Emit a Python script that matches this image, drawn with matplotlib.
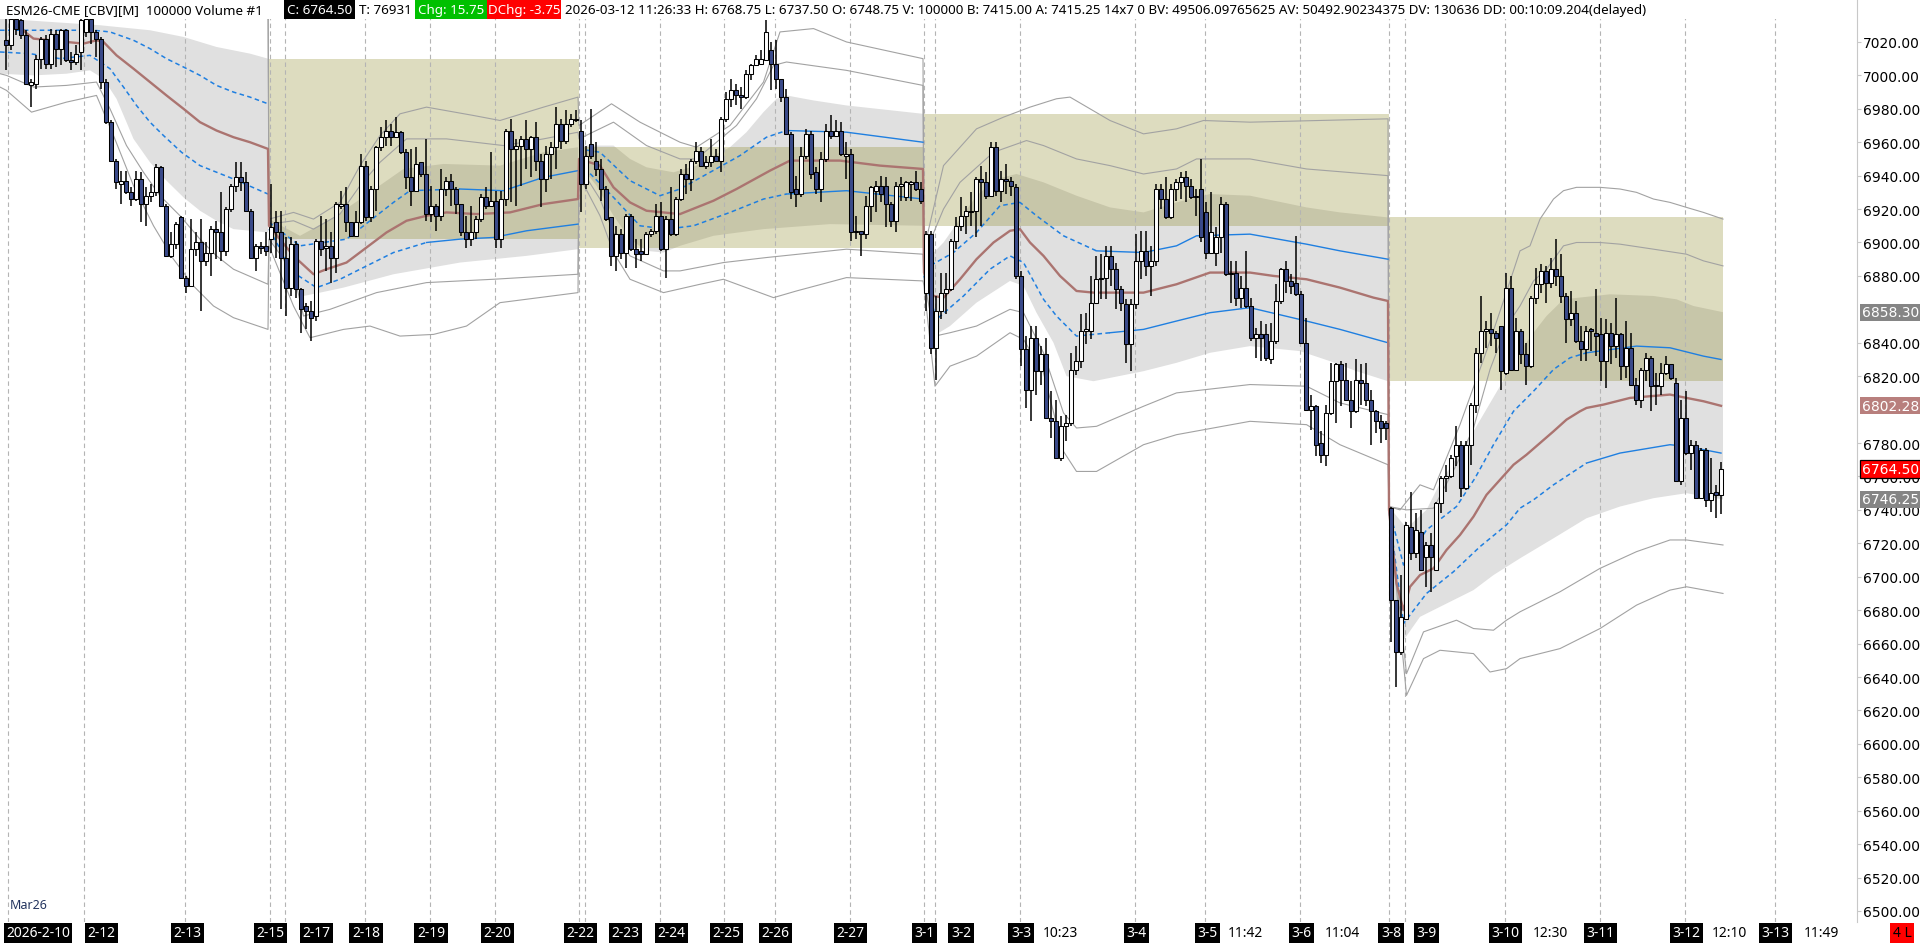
import numpy as np
import matplotlib
matplotlib.use("Agg")
import matplotlib.pyplot as plt
from matplotlib.patches import Rectangle
from matplotlib.transforms import blended_transform_factory

W, H = 1920, 945

# ---- candles (one bar per 100000 contracts) ----
opens = [
    7021, 7018, 7034, 7033, 7024, 6994, 6995, 7010, 7022, 7007,
    7025, 7016, 7027, 7009, 7008, 7014, 7026, 7034, 7026, 7022,
    6996, 6972, 6949, 6935, 6937, 6930, 6926, 6938, 6923, 6928,
    6930, 6945, 6922, 6892, 6899, 6915, 6879, 6874, 6896, 6900,
    6889, 6894, 6908, 6906, 6895, 6920, 6934, 6939, 6936, 6919,
    6891, 6898, 6898, 6902, 6912, 6906, 6891, 6873, 6899, 6872,
    6862, 6859, 6856, 6901, 6897, 6898, 6891, 6922, 6923, 6912,
    6904, 6912, 6946, 6915, 6932, 6957, 6963, 6967, 6963, 6966,
    6954, 6939, 6931, 6948, 6941, 6917, 6922, 6916, 6932, 6937,
    6932, 6923, 6906, 6902, 6906, 6914, 6927, 6922, 6925, 6902,
    6926, 6967, 6956, 6958, 6962, 6956, 6963, 6949, 6938, 6953,
    6957, 6971, 6961, 6971, 6974, 6967, 6935, 6959, 6949, 6944,
    6932, 6915, 6892, 6905, 6894, 6916, 6896, 6895, 6893, 6905,
    6907, 6916, 6896, 6914, 6905, 6926, 6941, 6938, 6949, 6955,
    6946, 6948, 6952, 6949, 6974, 6986, 6991, 6988, 6987, 7001,
    7006, 7007, 7009, 7015, 7007, 6998, 6987, 6965, 6932, 6929,
    6952, 6965, 6942, 6932, 6950, 6967, 6964, 6967, 6952, 6953,
    6906, 6907, 6905, 6922, 6931, 6934, 6934, 6923, 6913, 6934,
    6927, 6935, 6936, 6932, 6870, 6905, 6837, 6859, 6870, 6872,
    6901, 6910, 6916, 6919, 6919, 6938, 6936, 6928, 6957, 6931,
    6938, 6937, 6933, 6880, 6836, 6812, 6843, 6823, 6833, 6795,
    6793, 6771, 6790, 6792, 6824, 6829, 6847, 6847, 6864, 6879,
    6879, 6892, 6884, 6872, 6863, 6839, 6863, 6889, 6895, 6886,
    6889, 6932, 6926, 6915, 6932, 6936, 6939, 6934, 6927, 6932,
    6918, 6894, 6894, 6903, 6923, 6881, 6882, 6867, 6873, 6862,
    6843, 6845, 6845, 6830, 6841, 6865, 6884, 6877, 6876, 6869,
    6840, 6800, 6802, 6780, 6773, 6798, 6817, 6827, 6818, 6806,
    6799, 6818, 6816, 6806, 6799, 6793, 6792, 6741, 6686, 6655,
    6675, 6730, 6714, 6727, 6712, 6719, 6704, 6744, 6759, 6760,
    6772, 6779, 6753, 6779, 6803, 6834, 6847, 6848, 6846, 6850,
    6822, 6873, 6824, 6847, 6833, 6826, 6867, 6875, 6883, 6876,
    6884, 6880, 6868, 6854, 6858, 6841, 6836, 6848, 6846, 6845,
    6829, 6846, 6838, 6845, 6826, 6837, 6815, 6806, 6824, 6831,
    6815, 6814, 6822, 6827, 6816, 6757, 6795, 6774, 6779, 6747,
    6776, 6746, 6751, 6748.75,
]
highs = [
    7034, 7036, 7040, 7034, 7027, 6998, 7012, 7023, 7024, 7028,
    7027, 7028, 7028, 7014, 7018, 7034, 7040, 7035, 7027, 7023,
    6998, 6973, 6950, 6943, 6943, 6933, 6943, 6942, 6933, 6935,
    6947, 6946, 6923, 6906, 6912, 6916, 6880, 6914, 6906, 6914,
    6900, 6910, 6913, 6930, 6921, 6935, 6948, 6948, 6942, 6920,
    6899, 6900, 6906, 6935, 6919, 6919, 6903, 6903, 6901, 6873,
    6864, 6865, 6902, 6916, 6914, 6906, 6924, 6931, 6933, 6912,
    6919, 6953, 6949, 6934, 6958, 6969, 6973, 6971, 6975, 6967,
    6956, 6956, 6957, 6948, 6962, 6934, 6923, 6944, 6939, 6941,
    6933, 6923, 6916, 6922, 6916, 6929, 6933, 6954, 6931, 6931,
    6968, 6974, 6962, 6964, 6973, 6964, 6972, 6953, 6958, 6960,
    6981, 6974, 6979, 6977, 6979, 6973, 6958, 6980, 6960, 6950,
    6934, 6915, 6910, 6908, 6917, 6917, 6902, 6902, 6906, 6908,
    6923, 6924, 6916, 6933, 6927, 6944, 6947, 6950, 6960, 6957,
    6952, 6962, 6956, 6975, 6990, 6998, 6995, 6993, 7003, 7007,
    7012, 7015, 7033, 7020, 7021, 6998, 6992, 6966, 6940, 6957,
    6968, 6967, 6945, 6954, 6971, 6976, 6973, 6972, 6960, 6956,
    6916, 6907, 6928, 6934, 6937, 6940, 6939, 6924, 6936, 6939,
    6937, 6937, 6943, 6936, 6907, 6907, 6868, 6882, 6882, 6902,
    6915, 6927, 6922, 6930, 6939, 6946, 6942, 6960, 6960, 6943,
    6947, 6939, 6935, 6883, 6844, 6850, 6850, 6838, 6843, 6811,
    6806, 6796, 6797, 6834, 6838, 6857, 6858, 6880, 6892, 6893,
    6898, 6898, 6888, 6874, 6866, 6866, 6905, 6907, 6907, 6898,
    6935, 6935, 6939, 6935, 6938, 6942, 6943, 6938, 6932, 6950,
    6924, 6930, 6909, 6927, 6924, 6889, 6889, 6880, 6895, 6867,
    6849, 6853, 6851, 6852, 6875, 6885, 6889, 6881, 6904, 6871,
    6855, 6809, 6803, 6787, 6803, 6828, 6828, 6829, 6828, 6817,
    6830, 6827, 6828, 6812, 6800, 6797, 6793, 6742, 6686, 6701,
    6733, 6751, 6738, 6740, 6721, 6726, 6745, 6760, 6767, 6773,
    6790, 6781, 6781, 6804, 6837, 6868, 6853, 6858, 6847, 6850,
    6882, 6880, 6855, 6848, 6840, 6868, 6885, 6887, 6886, 6891,
    6902, 6893, 6870, 6871, 6865, 6850, 6850, 6849, 6872, 6855,
    6854, 6852, 6867, 6846, 6853, 6846, 6819, 6825, 6834, 6832,
    6822, 6828, 6832, 6827, 6819, 6806, 6811, 6782, 6781, 6777,
    6777, 6771, 6755, 6768.75,
]
lows = [
    7003, 7015, 7024, 7022, 6995, 6981, 6992, 7004, 7004, 7004,
    7005, 7006, 7008, 7003, 7006, 7003, 7023, 7019, 7011, 6992,
    6971, 6949, 6932, 6923, 6929, 6922, 6925, 6912, 6910, 6924,
    6928, 6922, 6892, 6891, 6896, 6879, 6870, 6874, 6892, 6859,
    6886, 6880, 6890, 6889, 6892, 6918, 6930, 6931, 6918, 6891,
    6883, 6893, 6892, 6894, 6891, 6860, 6856, 6868, 6867, 6846,
    6848, 6841, 6853, 6892, 6883, 6876, 6882, 6920, 6906, 6903,
    6903, 6911, 6913, 6912, 6919, 6955, 6958, 6958, 6963, 6953,
    6932, 6922, 6930, 6939, 6913, 6912, 6907, 6913, 6928, 6922,
    6917, 6904, 6897, 6898, 6902, 6912, 6920, 6922, 6897, 6897,
    6922, 6924, 6922, 6934, 6944, 6939, 6943, 6921, 6930, 6938,
    6944, 6956, 6959, 6969, 6972, 6918, 6932, 6950, 6940, 6925,
    6913, 6886, 6883, 6890, 6885, 6895, 6885, 6889, 6893, 6903,
    6905, 6895, 6879, 6904, 6904, 6925, 6929, 6931, 6947, 6945,
    6944, 6945, 6948, 6942, 6972, 6981, 6982, 6980, 6986, 6997,
    7006, 7006, 7009, 6991, 6992, 6984, 6965, 6926, 6921, 6927,
    6950, 6938, 6929, 6924, 6948, 6962, 6963, 6952, 6938, 6901,
    6902, 6892, 6902, 6912, 6918, 6924, 6909, 6909, 6906, 6925,
    6925, 6925, 6931, 6923, 6859, 6833, 6818, 6854, 6857, 6871,
    6896, 6907, 6905, 6910, 6903, 6910, 6926, 6927, 6928, 6924,
    6929, 6928, 6878, 6826, 6801, 6793, 6809, 6815, 6795, 6783,
    6771, 6769, 6781, 6790, 6821, 6825, 6839, 6842, 6863, 6866,
    6866, 6874, 6860, 6859, 6828, 6823, 6860, 6878, 6880, 6868,
    6886, 6920, 6914, 6914, 6925, 6926, 6924, 6926, 6916, 6900,
    6890, 6893, 6886, 6894, 6880, 6864, 6862, 6861, 6861, 6841,
    6831, 6829, 6829, 6827, 6839, 6863, 6870, 6869, 6868, 6839,
    6800, 6788, 6772, 6768, 6766, 6797, 6792, 6802, 6805, 6789,
    6798, 6803, 6802, 6779, 6786, 6780, 6782, 6661, 6634, 6653,
    6674, 6710, 6711, 6704, 6694, 6691, 6704, 6738, 6751, 6759,
    6766, 6748, 6752, 6767, 6798, 6828, 6837, 6838, 6834, 6812,
    6821, 6823, 6823, 6827, 6815, 6825, 6863, 6870, 6864, 6873,
    6874, 6864, 6840, 6850, 6840, 6829, 6829, 6835, 6832, 6817,
    6813, 6827, 6831, 6818, 6819, 6815, 6803, 6801, 6817, 6799,
    6803, 6809, 6821, 6818, 6757, 6755, 6773, 6764, 6747, 6747,
    6742, 6739, 6735, 6737.5,
]
closes = [
    7018, 7034, 7028, 7024, 6995, 6996, 7010, 7022, 7007, 7025,
    7016, 7027, 7009, 7008, 7013, 7033, 7034, 7026, 7022, 6996,
    6972, 6949, 6936, 6937, 6930, 6926, 6938, 6923, 6928, 6930,
    6945, 6922, 6892, 6899, 6911, 6879, 6874, 6896, 6900, 6889,
    6894, 6908, 6906, 6895, 6920, 6934, 6939, 6936, 6919, 6891,
    6898, 6897, 6895, 6909, 6906, 6891, 6873, 6899, 6872, 6860,
    6859, 6855, 6901, 6896, 6898, 6891, 6923, 6923, 6912, 6904,
    6912, 6946, 6915, 6932, 6957, 6963, 6967, 6963, 6966, 6954,
    6939, 6931, 6947, 6941, 6917, 6922, 6916, 6932, 6937, 6932,
    6923, 6906, 6902, 6906, 6914, 6927, 6922, 6925, 6902, 6926,
    6967, 6956, 6958, 6962, 6956, 6963, 6949, 6938, 6953, 6957,
    6971, 6961, 6971, 6974, 6973, 6935, 6952, 6952, 6944, 6932,
    6914, 6892, 6905, 6894, 6916, 6896, 6893, 6893, 6905, 6907,
    6916, 6896, 6914, 6905, 6926, 6941, 6938, 6949, 6955, 6946,
    6948, 6952, 6949, 6974, 6986, 6991, 6988, 6987, 7001, 7006,
    7010, 7010, 7026, 7007, 6998, 6987, 6965, 6930, 6929, 6952,
    6965, 6941, 6932, 6950, 6967, 6964, 6967, 6953, 6953, 6906,
    6907, 6905, 6922, 6933, 6934, 6929, 6923, 6913, 6934, 6935,
    6936, 6936, 6932, 6925, 6905, 6837, 6859, 6870, 6872, 6901,
    6910, 6916, 6919, 6918, 6938, 6936, 6928, 6957, 6931, 6938,
    6937, 6934, 6880, 6836, 6812, 6843, 6823, 6833, 6795, 6793,
    6771, 6790, 6792, 6824, 6829, 6847, 6848, 6864, 6878, 6878,
    6892, 6884, 6872, 6864, 6839, 6863, 6889, 6895, 6886, 6889,
    6932, 6926, 6915, 6932, 6936, 6939, 6934, 6927, 6928, 6903,
    6894, 6906, 6903, 6923, 6881, 6882, 6867, 6873, 6862, 6843,
    6845, 6843, 6831, 6841, 6865, 6884, 6877, 6874, 6869, 6840,
    6800, 6802, 6779, 6773, 6798, 6817, 6827, 6818, 6806, 6799,
    6818, 6816, 6806, 6799, 6793, 6789, 6789, 6686, 6655, 6676,
    6731, 6714, 6728, 6704, 6719, 6712, 6744, 6759, 6760, 6771,
    6779, 6753, 6779, 6803, 6834, 6847, 6848, 6846, 6843, 6823,
    6873, 6824, 6847, 6833, 6826, 6867, 6875, 6883, 6876, 6884,
    6880, 6868, 6854, 6858, 6841, 6836, 6847, 6847, 6844, 6829,
    6846, 6838, 6845, 6826, 6837, 6815, 6806, 6824, 6831, 6814,
    6814, 6822, 6827, 6819, 6757, 6795, 6774, 6779, 6747, 6776,
    6746, 6750, 6749, 6764.5,
]

# ---- weekly VWAP study as (bar, price) knots ----
week_edges = [52.5, 114.5, 183.5, 276.5]

vwap = [(-1.2, 7040), (1.5, 7034), (3.8, 7026), (5.5, 7022), (8.8, 7021), (12.1, 7020), (15.5, 7019),
        (18.1, 7021), (19.5, 7020), (22.1, 7012), (25.5, 7004), (28.8, 6996), (32.1, 6988), (35.5, 6980),
        (38.8, 6972), (42.1, 6967), (45.5, 6963), (48.8, 6960), (52.4, 6956),
        (52.6, 6910), (57.5, 6892), (61.5, 6881), (64.1, 6884), (68.1, 6888), (72.1, 6897), (76.1, 6906),
        (80.1, 6913), (84.1, 6916), (88.1, 6918), (94.1, 6917), (100.8, 6918), (107.5, 6923), (114.4, 6926),
        (114.6, 6950), (118.8, 6946), (121.5, 6933), (124.8, 6924), (128.1, 6919), (134.8, 6917),
        (141.5, 6925), (146.1, 6932), (152.8, 6943), (156.8, 6949), (166.8, 6949), (174.8, 6946), (183.4, 6944),
        (183.6, 6882), (185.5, 6868), (187.5, 6867), (190.8, 6878), (194.1, 6890), (197.5, 6900),
        (200.8, 6907), (202.8, 6908), (204.8, 6900), (207.5, 6892), (210.8, 6880), (214.1, 6871),
        (217.5, 6870), (227.5, 6870), (234.1, 6875), (240.8, 6882), (248.8, 6882), (253.5, 6880),
        (260.1, 6878), (266.8, 6873), (273.5, 6867), (276.4, 6865),
        (276.6, 6740), (278.1, 6696), (279.5, 6680), (280.8, 6694), (282.8, 6701), (285.5, 6705),
        (288.1, 6716), (290.8, 6725), (293.5, 6736), (296.1, 6749), (298.8, 6758), (301.5, 6767),
        (304.1, 6773), (306.8, 6780), (309.5, 6787), (312.1, 6794), (314.8, 6799), (316.1, 6801),
        (319.5, 6803), (324.8, 6807), (332.8, 6809), (336.1, 6807), (339.5, 6805), (343.0, 6802.28)]

blue_up = [(-1.2, 7027), (12, 7027), (17.5, 7027), (20.8, 7026), (25.5, 7021), (28.8, 7016), (32.1, 7010),
           (35.5, 7005), (38.8, 7000), (42.1, 6994), (45.5, 6990), (48.8, 6987), (52.4, 6983),
           (52.6, 6912), (58.8, 6898), (68.1, 6902), (72.8, 6913), (77.5, 6924), (80.8, 6931), (90.8, 6932),
           (99.5, 6931), (107.5, 6939), (114.4, 6943),
           (114.6, 6956), (118.8, 6954), (124.8, 6937), (130.8, 6928), (134.8, 6932), (140.8, 6942),
           (146.8, 6952), (152.1, 6963), (156.1, 6967), (168.1, 6966), (183.4, 6960),
           (183.6, 6884), (189.5, 6894), (194.1, 6906), (198.8, 6922), (202.8, 6924), (206.1, 6916),
           (211.5, 6904), (218.1, 6895), (227.5, 6894), (234.1, 6898), (238.1, 6904), (248.8, 6905),
           (260.1, 6899), (266.8, 6895), (276.4, 6890),
           (276.6, 6741), (279.5, 6707), (284.1, 6728), (290.1, 6742), (293.8, 6759), (297.5, 6779),
           (301.5, 6799), (305.5, 6811), (309.5, 6824), (312.8, 6831), (316.1, 6834), (326.1, 6838),
           (332.8, 6837), (339.5, 6832), (343.0, 6830)]

blue_dn = [(-1.2, 7014), (4.8, 7013), (10.8, 7010), (16.8, 7012), (20.8, 7004), (23.5, 6993), (26.1, 6982),
           (28.8, 6972), (31.5, 6964), (35.1, 6954), (38.8, 6946), (45.5, 6938), (52.4, 6929),
           (52.6, 6908), (57.5, 6882), (62.1, 6873), (66.8, 6878), (70.8, 6884), (77.5, 6894), (84.1, 6900),
           (90.8, 6902), (97.5, 6903), (104.1, 6907), (114.4, 6911),
           (114.6, 6948), (121.5, 6927), (126.8, 6910), (132.1, 6908), (137.5, 6910), (144.8, 6918),
           (151.5, 6926), (156.1, 6929), (168.1, 6931), (183.4, 6926),
           (183.6, 6880), (186.1, 6854), (191.5, 6868), (196.8, 6884), (200.8, 6892), (203.5, 6888),
           (207.5, 6866), (210.1, 6856), (214.1, 6844), (220.8, 6846), (227.5, 6848), (234.1, 6853),
           (240.8, 6858), (248.8, 6861), (260.1, 6853), (266.8, 6848), (276.4, 6840),
           (276.6, 6739), (279.5, 6672), (284.1, 6690), (289.5, 6703), (294.8, 6718), (300.1, 6731),
           (302.8, 6741), (305.5, 6746), (309.5, 6755), (316.1, 6768), (322.8, 6774), (332.8, 6779),
           (336.1, 6778), (343.0, 6774)]
blue_dash_until = [52.5, 84, 156, 216, 316]

band_top = [(-1.2, 7034), (18.8, 7030), (22.1, 7029), (28.8, 7027), (35.5, 7023), (42.1, 7017),
            (48.8, 7013), (52.4, 7010),
            (52.6, 6914), (58.8, 6904), (65.5, 6915), (72.8, 6930), (79.5, 6944), (87.5, 6947),
            (98.8, 6946), (107.5, 6954), (114.4, 6957),
            (114.6, 6958), (121.5, 6958), (124.8, 6950), (128.1, 6945), (133.5, 6942), (138.1, 6946),
            (141.5, 6952), (144.8, 6957), (148.1, 6966), (151.5, 6978), (154.1, 6986), (156.1, 6988),
            (161.5, 6985), (168.1, 6982), (183.4, 6977),
            (183.6, 6888), (187.5, 6900), (190.8, 6914), (194.1, 6928), (198.1, 6938), (202.1, 6941),
            (207.5, 6936), (214.1, 6928), (220.8, 6921), (227.5, 6918), (234.1, 6924), (240.8, 6929),
            (248.8, 6928), (260.1, 6921), (266.8, 6918), (276.4, 6915),
            (276.6, 6742), (280.1, 6729), (284.1, 6740), (286.8, 6756), (293.5, 6787), (298.8, 6814),
            (302.8, 6835), (305.5, 6846), (308.1, 6856), (311.5, 6866), (320.8, 6869), (329.5, 6868),
            (334.1, 6866), (337.5, 6862), (343.4, 6858.3)]

band_bot = [(-1.2, 7001), (5.5, 7000), (12.1, 7001), (16.8, 7003), (19.5, 6998), (22.1, 6986),
            (24.1, 6972), (25.5, 6962), (28.8, 6948), (32.1, 6937), (35.5, 6927), (38.8, 6919),
            (42.1, 6913), (45.5, 6908), (52.4, 6906),
            (52.6, 6904), (56.8, 6882), (59.5, 6868), (62.8, 6870), (67.5, 6873), (77.5, 6881),
            (90.8, 6888), (104.1, 6892), (114.4, 6896),
            (114.6, 6947), (118.1, 6934), (121.5, 6916), (124.8, 6902), (128.1, 6895), (131.5, 6894),
            (134.8, 6898), (141.5, 6904), (151.5, 6908), (164.8, 6911), (183.4, 6910),
            (183.6, 6878), (185.5, 6844), (188.8, 6850), (194.1, 6864), (200.8, 6877), (203.5, 6874),
            (206.1, 6858), (209.5, 6840), (212.1, 6820), (217.5, 6817), (227.5, 6823), (234.1, 6828),
            (240.8, 6834), (248.8, 6838), (258.8, 6835), (264.8, 6829), (270.1, 6823), (276.4, 6817),
            (276.6, 6740), (277.5, 6685), (279.5, 6662), (282.8, 6676), (286.8, 6682), (293.5, 6692),
            (297.5, 6701), (302.8, 6711), (309.5, 6723), (316.1, 6735), (322.8, 6742), (329.5, 6747),
            (336.1, 6750), (343.4, 6746.25)]

upper_outer = [(-1.2, 7090), (52.4, 7068),
               (52.6, 6914), (57.5, 6918), (61.5, 6914), (66.8, 6924), (70.8, 6946), (74.8, 6964),
               (78.8, 6977), (84.1, 6981), (93.5, 6976), (98.8, 6973), (107.5, 6981), (114.4, 6987),
               (114.6, 6970), (121.1, 6983), (126.8, 6972), (134.8, 6960), (138.1, 6957), (144.8, 6970),
               (151.5, 6996), (154.8, 7026), (161.5, 7028), (168.1, 7020), (183.4, 7010),
               (183.6, 6896), (187.5, 6946), (194.1, 6968), (199.5, 6975), (204.8, 6981), (210.1, 6986),
               (212.8, 6987), (220.8, 6973), (227.5, 6965), (234.1, 6968), (239.5, 6973), (248.8, 6972),
               (276.4, 6974),
               (276.6, 6742), (278.8, 6740), (282.8, 6755), (285.5, 6752), (290.8, 6791), (296.1, 6835),
               (299.5, 6865), (302.8, 6895), (304.8, 6898), (306.8, 6914), (309.5, 6926), (311.5, 6931),
               (314.1, 6933), (318.8, 6933), (322.8, 6932), (326.1, 6930), (329.5, 6926), (332.8, 6924),
               (336.1, 6921), (339.5, 6918), (343.4, 6914)]

upper_inner = [(-1.2, 7062), (52.4, 7040),
               (52.6, 6911), (57.5, 6913), (61.5, 6908), (66.8, 6917), (70.8, 6934), (74.8, 6948),
               (80.1, 6962), (88.1, 6962), (99.5, 6958), (107.5, 6962), (114.4, 6966),
               (114.6, 6962), (121.5, 6972), (128.1, 6958), (134.8, 6950), (138.1, 6950), (146.1, 6970),
               (150.1, 6986), (153.5, 7006), (156.1, 7008), (168.1, 7003), (183.4, 6994),
               (183.6, 6892), (187.5, 6920), (190.8, 6936), (197.5, 6954), (204.1, 6961), (207.5, 6958),
               (214.1, 6950), (220.8, 6946), (227.5, 6941), (234.1, 6944), (238.1, 6950), (248.8, 6950),
               (260.1, 6944), (276.4, 6940),
               (276.6, 6742), (280.1, 6740), (285.5, 6741), (290.1, 6767), (293.5, 6789), (296.8, 6824),
               (300.1, 6850), (302.8, 6862), (305.5, 6877), (308.1, 6884), (311.5, 6898), (314.1, 6900),
               (318.8, 6900), (322.8, 6899), (329.5, 6896), (336.1, 6893), (339.5, 6889), (343.4, 6886)]

lower_inner = [(-1.2, 7001), (0.1, 7000), (5.5, 6993), (12.1, 6994), (18.1, 6996), (20.8, 6980),
               (24.1, 6958), (27.5, 6942), (30.8, 6928), (34.8, 6916), (38.8, 6902), (42.1, 6892),
               (45.5, 6884), (52.4, 6875),
               (52.6, 6902), (57.5, 6882), (59.5, 6856), (64.8, 6860), (74.1, 6870), (84.1, 6876),
               (97.5, 6878), (114.4, 6881),
               (114.6, 6946), (118.8, 6926), (121.5, 6906), (124.8, 6892), (131.5, 6883), (134.8, 6883),
               (143.5, 6888), (152.1, 6891), (168.1, 6896), (183.4, 6893),
               (183.6, 6877), (185.8, 6844), (188.8, 6846), (194.1, 6850), (200.8, 6860), (203.5, 6858),
               (207.5, 6834), (211.5, 6798), (214.1, 6789), (218.1, 6790), (227.5, 6802), (234.1, 6810),
               (248.8, 6815), (260.1, 6814), (266.8, 6804), (276.4, 6797),
               (276.6, 6740), (280.1, 6642), (283.5, 6667), (290.1, 6674), (293.5, 6669), (297.5, 6668),
               (300.1, 6674), (302.8, 6679), (310.8, 6691), (318.8, 6705), (326.1, 6715), (332.8, 6722),
               (336.1, 6722), (343.4, 6719)]

lower_outer = [(-1.2, 6993), (0.1, 6991), (5.1, 6978), (12.1, 6984), (18.1, 6988), (21.5, 6964),
               (25.5, 6934), (29.5, 6910), (33.5, 6890), (37.5, 6874), (41.5, 6862), (45.5, 6855),
               (52.4, 6848),
               (52.6, 6898), (57.5, 6862), (60.8, 6843), (67.5, 6848), (72.8, 6850), (78.8, 6844),
               (85.5, 6845), (92.1, 6850), (98.8, 6864), (114.4, 6870),
               (114.6, 6940), (118.8, 6916), (121.5, 6894), (124.8, 6878), (131.5, 6870), (138.8, 6875),
               (143.5, 6878), (153.5, 6867), (158.1, 6871), (168.1, 6879), (183.4, 6877),
               (183.6, 6874), (185.8, 6814), (188.8, 6826), (194.1, 6832), (200.8, 6846), (203.5, 6842),
               (207.5, 6822), (211.5, 6775), (214.1, 6763), (218.1, 6763), (227.5, 6779), (234.1, 6785),
               (248.8, 6793), (260.1, 6791), (266.8, 6779), (276.4, 6767),
               (276.6, 6740), (280.1, 6629), (283.5, 6651), (286.8, 6656), (293.5, 6654), (296.8, 6643),
               (300.1, 6645), (302.8, 6651), (310.8, 6657), (318.8, 6669), (326.1, 6683), (332.8, 6692),
               (336.1, 6694), (343.4, 6690)]

# previous-week value areas (start bar, end bar, low, high)
zones = [(52.5, 114.5, 6902, 7010), (114.5, 183.5, 6897, 6957),
         (183.5, 276.5, 6910, 6977), (276.5, 343.4, 6817, 6915)]

grid_bars = [0.4, 15.6, 35.7, 52.7, 55.8, 71.8, 84.8, 97.8, 114.6, 115.8, 130.7, 143.6, 153.7,
             168.7, 183.6, 185.7, 202.7, 225.7, 239.7, 258.7, 276.6, 279.7, 299.7, 318.7, 335.7, 353.7]

date_labels = ["2-12", "2-13", "2-15", "2-17", "2-18", "2-19", "2-20", "2-22", "2-23", "2-24",
               "2-25", "2-26", "2-27", "3-1", "3-2", "3-3", "3-4", "3-5", "3-6", "3-8", "3-9",
               "3-10", "3-11", "3-12", "3-13"]
date_pos = [19.1, 36.3, 52.9, 62.0, 72.0, 85.0, 98.2, 114.9, 123.9, 133.0, 144.0, 153.8, 168.8,
            183.7, 191.0, 203.0, 226.1, 240.3, 259.1, 277.0, 284.1, 299.8, 318.9, 336.0, 353.9]
time_labels = ["10:23", "11:42", "11:04", "12:30", "12:10", "11:49"]
time_pos = [210.9, 247.9, 267.2, 308.8, 344.6, 363.0]

price_ticks = [v for v in range(6500, 7021, 20) if v not in (6800, 6860)]
price_tags = [(6858.30, "#858585", "none"), (6802.28, "#b87f7d", "none"),
              (6764.50, "#ff0000", "black"), (6746.25, "#858585", "none")]

# ---- figure ----
fig = plt.figure(figsize=(W / 100, H / 100), dpi=100)
fig.patch.set_facecolor("white")
ax = fig.add_axes([0, 22 / H, 1857 / W, 923 / H])
ax.set_xlim(-1.2, 370.2)
ax.set_ylim(6493.4, 7045.7)

bounds = [-np.inf] + week_edges + [np.inf]


def week_parts(knots):
    arr = np.array(knots, dtype=float)
    return [arr[(arr[:, 0] > bounds[w]) & (arr[:, 0] < bounds[w + 1])] for w in range(5)]


# shaded band per week
for top, bot in zip(week_parts(band_top), week_parts(band_bot)):
    xs = np.concatenate([top[:, 0], bot[::-1, 0]])
    ys = np.concatenate([top[:, 1], bot[::-1, 1]])
    ax.fill(xs, ys, color="#e0e0e0", lw=0, zorder=1)

for x0, x1, lo, hi in zones:
    ax.add_patch(Rectangle((x0, lo), x1 - x0, hi - lo, facecolor="#8d8825", alpha=0.29, lw=0, zorder=1.5))

for g in grid_bars:
    ax.axvline(g, color="#b4b4b4", lw=0.8, ls=(0, (4, 3)), zorder=2)

for line in [upper_outer, upper_inner, lower_inner, lower_outer]:
    a = np.array(line)
    ax.plot(a[:, 0], a[:, 1], color="#a2a2a2", lw=0.8, zorder=3)

for line in [blue_up, blue_dn]:
    for w, seg in enumerate(week_parts(line)):
        k = min(np.searchsorted(seg[:, 0], blue_dash_until[w]), len(seg) - 1)
        ax.plot(seg[:k + 1, 0], seg[:k + 1, 1], color="#1f7fe0", lw=1.1, ls=(0, (3, 2.2)), zorder=3)
        ax.plot(seg[k:, 0], seg[k:, 1], color="#1f7fe0", lw=1.0, zorder=3)

a = np.array(vwap)
ax.plot(a[:, 0], a[:, 1], color="#ab7470", lw=1.7, zorder=4)

# candles
o = np.array(opens, dtype=float)
h = np.array(highs, dtype=float)
l = np.array(lows, dtype=float)
c = np.array(closes, dtype=float)
x = np.arange(len(o))
ax.vlines(x, l, h, color="black", lw=1.1, zorder=5)
up = c >= o
body = np.where(np.abs(c - o) < 0.6, 0.6, c - o)
ax.bar(x[up], body[up], bottom=o[up], width=0.64, color="white", edgecolor="black", lw=0.75, zorder=6)
ax.bar(x[~up], body[~up], bottom=o[~up], width=0.64, color="#3a4a8a", edgecolor="black", lw=0.75, zorder=6)

# price axis
for s in ["left", "top", "bottom"]:
    ax.spines[s].set_visible(False)
ax.spines["right"].set_color("#c8c8c8")
ax.set_xticks([])
ax.yaxis.tick_right()
ax.set_yticks(price_ticks)
ax.set_yticklabels([f"{v:.2f}" for v in price_ticks])
ax.tick_params(axis="y", length=3, width=0.8, color="#c8c8c8", pad=1.5, labelsize=10, labelcolor="black")

tag_tr = blended_transform_factory(ax.transAxes, ax.transData)
for val, fc, ec in price_tags:
    ax.text(1 + 5 / 1857, val, f"{val:.2f}", transform=tag_tr, fontsize=10, color="white", va="center",
            ha="left", zorder=10, clip_on=False,
            bbox=dict(boxstyle="square,pad=0.12", fc=fc, ec=ec, lw=0.9))

ax.text(10 / 1857, 17 / 923, "Mar26", transform=ax.transAxes, fontsize=9, color="#23345e",
        family="Noto Sans", va="center", ha="left")

# date row
dt = blended_transform_factory(ax.transData, fig.transFigure)
box = dict(boxstyle="square,pad=0.18", fc="black", ec="none")
ax.text(0.0, 11 / H, "2026-2-10", transform=dt, fontsize=10, color="white", family="Noto Sans",
        ha="left", va="center", bbox=box, clip_on=False)
for s, p in zip(date_labels, date_pos):
    ax.text(p, 11 / H, s, transform=dt, fontsize=10, color="white", family="Noto Sans",
            ha="center", va="center", bbox=box, clip_on=False)
for s, p in zip(time_labels, time_pos):
    ax.text(p, 11 / H, s, transform=dt, fontsize=10, color="black", family="Noto Sans",
            ha="center", va="center", clip_on=False)
fig.text(1902 / W, 11 / H, "4 L", fontsize=10, color="black", family="Noto Sans", ha="center",
         va="center", bbox=dict(boxstyle="square,pad=0.2", fc="#ff0000", ec="none"))

# header line
fig.add_artist(Rectangle((0, 1 - 20 / H), 1856 / W, 20 / H, transform=fig.transFigure,
                         fc="white", lw=0, zorder=20))
renderer = fig.canvas.get_renderer()
rest = ("2026-03-12 11:26:33 H: 6768.75 L: 6737.50 O: 6748.75 V: 100000 B: 7415.00 A: 7415.25 "
        "14x7 0 BV: 49506.09765625 AV: 50492.90234375 DV: 130636 DD: 00:10:09.204(delayed)")
yc = 1 - 10.5 / H
t = fig.text(565 / W, yc, rest, fontsize=10, family="Noto Sans", va="center", ha="left", zorder=30)
fs = 10 * 1076 / t.get_window_extent(renderer).width
t.set_fontsize(fs)
fig.text(6 / W, yc, "ESM26-CME [CBV][M]  100000 Volume #1", fontsize=fs, family="Noto Sans",
         va="center", ha="left", zorder=30)
fig.text(359 / W, yc, "T: 76931", fontsize=fs, family="Noto Sans", va="center", ha="left", zorder=30)
for x0, x1, s, fc in [(284, 355, "C: 6764.50", "black"), (415, 487, "Chg: 15.75", "#00c000"),
                      (487, 561, "DChg: -3.75", "#ff0000")]:
    fig.add_artist(Rectangle((x0 / W, 1 - 20 / H), (x1 - x0) / W, 20 / H, transform=fig.transFigure,
                             fc=fc, lw=0, zorder=25))
    fig.text((x0 + x1) / 2 / W, yc, s, fontsize=fs, family="Noto Sans", color="white",
             va="center", ha="center", zorder=30)

fig.savefig("out.png", dpi=100)
